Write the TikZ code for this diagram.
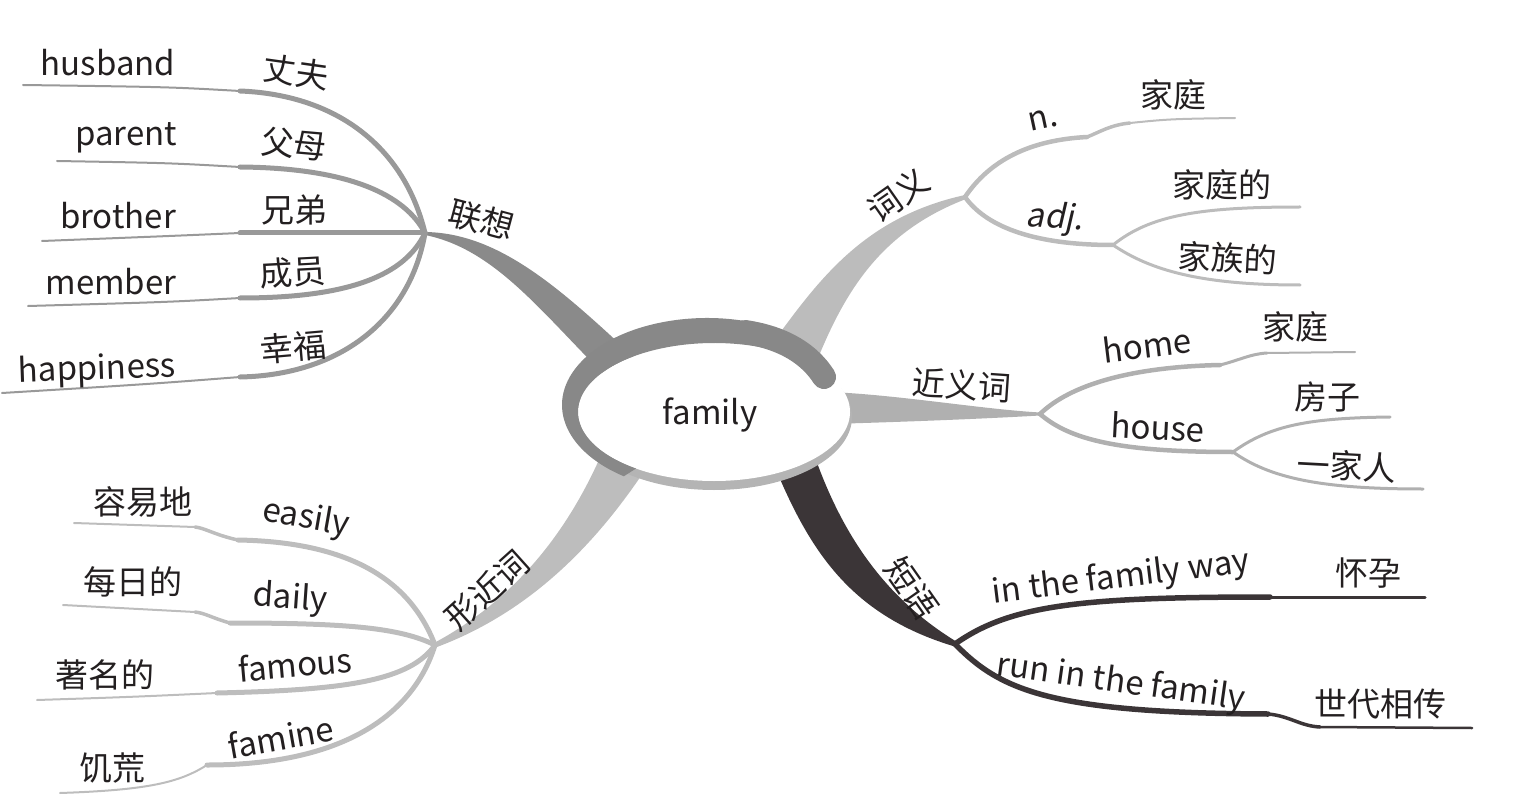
\documentclass[tikz,border=0pt]{standalone}
\usepackage{fontspec}
\setmainfont{Noto Sans CJK SC}
\newfontfamily\slfont[FakeSlant=0.18]{Noto Sans CJK SC}
\definecolor{txtc}{HTML}{231F20}
\definecolor{cA}{HTML}{8A8A8A}
\definecolor{cAl}{HTML}{999999}
\definecolor{cB}{HTML}{BCBCBC}
\definecolor{cC}{HTML}{B0B0B0}
\definecolor{cD}{HTML}{3B3537}
\definecolor{cE}{HTML}{BDBDBD}
\definecolor{ring}{HTML}{888888}
\definecolor{rim}{HTML}{B4B4B4}
\tikzset{
  lbl/.style={font=\fontsize{33}{36}\selectfont, text=txtc, inner sep=0pt},
  thick leaf/.style={line width=5pt, line cap=round, line join=round},
  thin leaf/.style={line width=2pt, line cap=round},
}
\begin{document}
\begin{tikzpicture}[x=1pt,y=-1pt]
\useasboundingbox (0,0) rectangle (1517,810);
% ---------------- hubs
\coordinate (hA) at (425,233);
\coordinate (hB) at (965,197);
\coordinate (hBadj) at (1113,245);
\coordinate (hC) at (1040,414);
\coordinate (hChouse) at (1233,452);
\coordinate (hD) at (955,644);
\coordinate (hE) at (435,645);
% ---------------- main branches (tapered)
\fill[cA] (650,372) .. controls (570,298) and (505,233) .. (425,232)
  -- (425,235) .. controls (500,250) and (548,322) .. (622,392) -- cycle;
\fill[cB] (766,352) .. controls (815,285) and (860,218) .. (965,195)
  -- (966,199) .. controls (880,232) and (844,292) .. (814,368) -- cycle;
\fill[cC] (830,392) .. controls (900,395) and (980,409) .. (1040,412.5)
  -- (1040,415.5) .. controls (980,419) and (900,422) .. (830,424) -- cycle;
\fill[cD] (772,460) .. controls (808,548) and (848,614) .. (953,646)
  -- (957,642) .. controls (888,600) and (845,540) .. (816,460) -- cycle;
\fill[cE] (598,462) .. controls (560,545) and (505,605) .. (434,643)
  -- (437,647) .. controls (530,612) and (595,545) .. (645,470) -- cycle;
% ---------------- 联想 leaves
\coordinate (a1s) at (240,91);  \coordinate (a1e) at (23,85);
\coordinate (a2s) at (240,167); \coordinate (a2e) at (57,161);
\coordinate (a3s) at (240,233); \coordinate (a3e) at (42,241);
\coordinate (a4s) at (240,298); \coordinate (a4e) at (28,306);
\coordinate (a5s) at (240,377); \coordinate (a5e) at (2,393);
\draw[cAl,thick leaf] (hA) .. controls (405,150) and (340,95) .. (a1s);
\draw[cAl,thick leaf] (hA) .. controls (405,195) and (350,168) .. (a2s);
\draw[cAl,thick leaf] (hA) -- (a3s);
\draw[cAl,thick leaf] (hA) .. controls (405,275) and (350,298) .. (a4s);
\draw[cAl,thick leaf] (hA) .. controls (410,320) and (340,375) .. (a5s);
\draw[cAl,thin leaf] (a1s) .. controls (170,87) .. (a1e);
\draw[cAl,thin leaf] (a2s) .. controls (170,163) .. (a2e);
\draw[cAl,thin leaf] (a3s) .. controls (170,236) .. (a3e);
\draw[cAl,thin leaf] (a4s) .. controls (170,302) .. (a4e);
\draw[cAl,thin leaf] (a5s) .. controls (150,384) .. (a5e);
% ---------------- 词义 leaves
\coordinate (b1s) at (1087,137); \coordinate (b1m) at (1130,123); \coordinate (b1e) at (1235,118);
\coordinate (b2e) at (1300,207);
\coordinate (b3e) at (1300,285);
\draw[cB,line width=4.5pt,line cap=round] (hB) .. controls (990,160) and (1030,140) .. (b1s);
\draw[cB,line width=3.5pt,line cap=round] (b1s) .. controls (1100,132) and (1110,125) .. (b1m);
\draw[cB,line width=2pt,line cap=round] (b1m) .. controls (1170,119) .. (b1e);
\draw[cB,line width=4.5pt,line cap=round] (hB) .. controls (985,225) and (1030,245) .. (hBadj);
\draw[cB,line width=3pt,line cap=round] (hBadj) .. controls (1150,215) and (1200,207) .. (b2e);
\draw[cB,line width=3pt,line cap=round] (hBadj) .. controls (1150,270) and (1200,285) .. (b3e);
% ---------------- 近义词 leaves
\coordinate (c1s) at (1220,365); \coordinate (c1m) at (1267,353); \coordinate (c1e) at (1355,352);
\coordinate (c2e) at (1390,417);
\coordinate (c3e) at (1423,489);
\draw[cC,line width=4.5pt,line cap=round] (hC) .. controls (1070,385) and (1130,367) .. (c1s);
\draw[cC,line width=3pt,line cap=round] (c1s) .. controls (1240,360) and (1250,354) .. (c1m);
\draw[cC,line width=2pt,line cap=round] (c1m) -- (c1e);
\draw[cC,line width=4.5pt,line cap=round] (hC) .. controls (1070,440) and (1120,452) .. (hChouse);
\draw[cC,line width=3pt,line cap=round] (hChouse) .. controls (1270,425) and (1310,418) .. (c2e);
\draw[cC,line width=3pt,line cap=round] (hChouse) .. controls (1270,478) and (1320,489) .. (c3e);
% ---------------- 短语 leaves
\coordinate (d1s) at (1270,597); \coordinate (d1e) at (1425,597);
\coordinate (d2s) at (1268,714); \coordinate (d2m) at (1320,727); \coordinate (d2e) at (1472,728);
\draw[cD,line width=5.5pt,line cap=round] (hD) .. controls (1010,605) and (1080,597) .. (d1s);
\draw[cD,line width=3pt,line cap=round] (d1s) -- (d1e);
\draw[cD,line width=5.5pt,line cap=round] (hD) .. controls (1000,690) and (1050,713) .. (d2s);
\draw[cD,line width=3.5pt,line cap=round] (d2s) .. controls (1290,716) and (1300,726) .. (d2m);
\draw[cD,line width=2.5pt,line cap=round] (d2m) -- (d2e);
% ---------------- 形近词 leaves
\coordinate (e1s) at (238,540); \coordinate (e1m) at (195,527); \coordinate (e1e) at (74,523);
\coordinate (e2s) at (230,623); \coordinate (e2m) at (195,612); \coordinate (e2e) at (63,605);
\coordinate (e3s) at (217,693); \coordinate (e3e) at (37,700);
\coordinate (e4s) at (207,765); \coordinate (e4e) at (60,793);
\draw[cE,thick leaf] (hE) .. controls (410,580) and (350,542) .. (e1s);
\draw[cE,line width=3.5pt,line cap=round] (e1s) .. controls (215,535) and (205,528) .. (e1m);
\draw[cE,thin leaf] (e1m) -- (e1e);
\draw[cE,thick leaf] (hE) .. controls (400,628) and (350,623) .. (e2s);
\draw[cE,line width=3.5pt,line cap=round] (e2s) .. controls (212,618) and (205,613) .. (e2m);
\draw[cE,thin leaf] (e2m) -- (e2e);
\draw[cE,thick leaf] (hE) .. controls (410,680) and (350,690) .. (e3s);
\draw[cE,thin leaf] (e3s) .. controls (130,697) .. (e3e);
\draw[cE,thick leaf] (hE) .. controls (415,710) and (350,765) .. (e4s);
\draw[cE,thin leaf] (e4s) .. controls (180,782) and (150,790) .. (e4e);
% ---------------- central ellipse
\fill[rim] (714,417) ellipse [x radius=138, y radius=73];
\fill[white] (714,412) ellipse [x radius=136, y radius=69];
\fill[ring] (707,405) ++(300:145 and 87)
   arc[start angle=300, end angle=125, x radius=145, y radius=87]
   -- ([shift={(714,412)}]125:136 and 69)
   arc[start angle=125, end angle=300, x radius=136, y radius=69]
   -- cycle;
\draw[ring, line width=24pt, line cap=round] (745,332) .. controls (785,338) and (810,355) .. (824,377);
\node[lbl] (center) at (710,415) {family};
% ---------------- labels
\node[lbl,rotate=-15] (lA) at (482,220) {联想};
\node[lbl] (t1) at (108,63) {husband};
\node[lbl,rotate=-8] (t1c) at (296,72) {丈夫};
\node[lbl] (t2) at (126,138) {parent};
\node[lbl,rotate=-5] (t2c) at (294,144) {父母};
\node[lbl] (t3) at (118,216) {brother};
\node[lbl] (t3c) at (294,210) {兄弟};
\node[lbl] (t4) at (111,282) {member};
\node[lbl,rotate=3] (t4c) at (293,272) {成员};
\node[lbl,rotate=2] (t5) at (97,370) {happiness};
\node[lbl,rotate=5] (t5c) at (293,347) {幸福};

\node[lbl,rotate=35] (lB) at (898,195) {词义};
\node[lbl,rotate=12] (tn) at (1043,120) {n.};
\node[lbl] (tnc) at (1173,95) {家庭};
\node[lbl,rotate=-3] (tadj) at (1055,219) {\slfont adj.};
\node[lbl] (tadj1) at (1222,185) {家庭的};
\node[lbl,rotate=-3] (tadj2) at (1228,258) {家族的};

\node[lbl,rotate=-4] (lC) at (962,385) {近义词};
\node[lbl,rotate=7] (thome) at (1147,345) {home};
\node[lbl] (thomec) at (1295,327) {家庭};
\node[lbl,rotate=-3] (thouse) at (1158,427) {house};
\node[lbl] (thouse1) at (1327,397) {房子};
\node[lbl,rotate=-3] (thouse2) at (1347,466) {一家人};

\node[lbl,rotate=-55] (lD) at (912,588) {短语};
\node[lbl,rotate=7] (tway) at (1121,578) {in the family way};
\node[lbl] (twayc) at (1368,573) {怀孕};
\node[lbl,rotate=-8] (trun) at (1121,683) {run in the family};
\node[lbl] (trunc) at (1380,704) {世代相传};

\node[lbl,rotate=42] (lE) at (487,590) {形近词};
\node[lbl] (te1c) at (143,502) {容易地};
\node[lbl,rotate=-10] (te1) at (306,519) {easily};
\node[lbl] (te2c) at (133,582) {每日的};
\node[lbl,rotate=-4] (te2) at (290,599) {daily};
\node[lbl] (te3c) at (105,675) {著名的};
\node[lbl,rotate=5] (te3) at (295,664) {famous};
\node[lbl] (te4c) at (112,768) {饥荒};
\node[lbl,rotate=10] (te4) at (281,737) {famine};
\end{tikzpicture}
\end{document}
